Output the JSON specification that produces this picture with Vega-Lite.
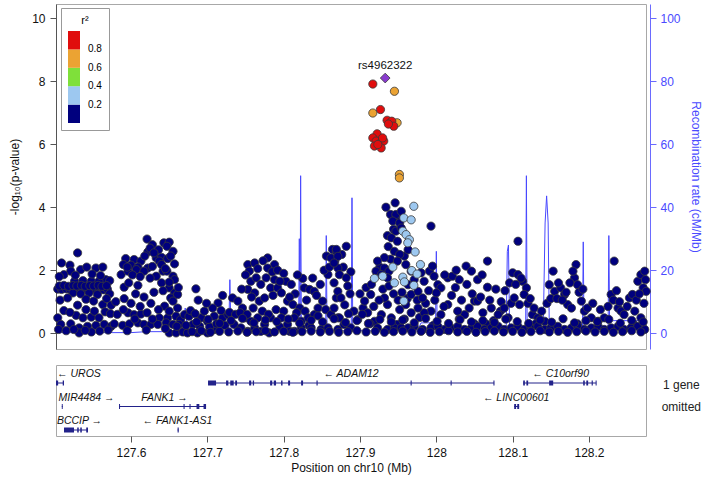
{
"$schema": "https://vega.github.io/schema/vega-lite/v6.json",
"padding": {"left": 8, "top": 3, "right": 4, "bottom": 4},
"spacing": 14,
"config": {
  "font": "Liberation Sans",
  "view": {"stroke": "#a8a8a8", "strokeWidth": 1},
  "axis": {"labelFont": "Liberation Sans", "titleFont": "Liberation Sans", "labelFontSize": 12, "titleFontSize": 12, "titleFontWeight": "normal", "labelColor": "#111", "titleColor": "#111", "grid": false, "tickColor": "#555", "domainColor": "#555"}
},
"datasets": {
 "snps": [
  {"x":127.509,"p":2.23,"r":0.1},{"x":127.520,"p":2.16,"r":0.1},{"x":127.530,"p":2.55,"r":0.1},{"x":127.521,"p":1.97,"r":0.1},{"x":127.534,"p":2.02,"r":0.1},{"x":127.542,"p":2.10,"r":0.1},{"x":127.554,"p":2.07,"r":0.1},{"x":127.563,"p":2.10,"r":0.1},{"x":127.567,"p":1.70,"r":0.1},{"x":127.526,"p":1.65,"r":0.1},{"x":127.537,"p":1.67,"r":0.1},{"x":127.548,"p":1.65,"r":0.1},{"x":127.558,"p":1.65,"r":0.1},{"x":127.572,"p":1.67,"r":0.1},
  {"x":127.504,"p":1.40,"r":0.1},{"x":127.509,"p":1.39,"r":0.1},{"x":127.515,"p":1.41,"r":0.1},{"x":127.520,"p":1.39,"r":0.1},{"x":127.526,"p":1.40,"r":0.1},{"x":127.531,"p":1.38,"r":0.1},{"x":127.537,"p":1.40,"r":0.1},{"x":127.542,"p":1.39,"r":0.1},{"x":127.548,"p":1.41,"r":0.1},{"x":127.553,"p":1.39,"r":0.1},{"x":127.558,"p":1.40,"r":0.1},{"x":127.564,"p":1.38,"r":0.1},{"x":127.569,"p":1.40,"r":0.1},
  {"x":127.524,"p":1.28,"r":0.1},{"x":127.534,"p":1.25,"r":0.1},{"x":127.545,"p":1.28,"r":0.1},{"x":127.556,"p":1.23,"r":0.1},{"x":127.572,"p":1.25,"r":0.1},
  {"x":127.530,"p":0.89,"r":0.1},{"x":127.563,"p":0.91,"r":0.1},{"x":127.574,"p":0.89,"r":0.1},
  {"x":127.528,"p":0.57,"r":0.1},{"x":127.537,"p":0.49,"r":0.1},{"x":127.548,"p":0.51,"r":0.1},{"x":127.558,"p":0.49,"r":0.1},{"x":127.504,"p":0.49,"r":0.1},
  {"x":127.508,"p":0.28,"r":0.1},{"x":127.521,"p":0.30,"r":0.1},{"x":127.532,"p":0.17,"r":0.1},{"x":127.543,"p":0.22,"r":0.1},{"x":127.554,"p":0.25,"r":0.1},{"x":127.565,"p":0.28,"r":0.1},{"x":127.574,"p":0.22,"r":0.1},
  {"x":127.532,"p":0.01,"r":0.1},{"x":127.548,"p":0.04,"r":0.1},{"x":127.505,"p":0.12,"r":0.1},
  {"x":127.506,"p":1.50,"r":0.1},{"x":127.512,"p":1.52,"r":0.1},{"x":127.518,"p":1.49,"r":0.1},{"x":127.524,"p":1.51,"r":0.1},{"x":127.529,"p":1.50,"r":0.1},{"x":127.535,"p":1.52,"r":0.1},{"x":127.540,"p":1.49,"r":0.1},{"x":127.546,"p":1.51,"r":0.1},{"x":127.551,"p":1.50,"r":0.1},{"x":127.557,"p":1.52,"r":0.1},{"x":127.562,"p":1.49,"r":0.1},{"x":127.568,"p":1.51,"r":0.1},
  {"x":127.507,"p":1.05,"r":0.1},{"x":127.517,"p":1.12,"r":0.1},{"x":127.541,"p":1.08,"r":0.1},{"x":127.551,"p":1.02,"r":0.1},{"x":127.568,"p":1.10,"r":0.1},
  {"x":127.512,"p":0.72,"r":0.1},{"x":127.520,"p":0.66,"r":0.1},{"x":127.541,"p":0.75,"r":0.1},{"x":127.552,"p":0.70,"r":0.1},{"x":127.566,"p":0.68,"r":0.1},{"x":127.573,"p":0.62,"r":0.1},
  {"x":127.512,"p":1.86,"r":0.1},{"x":127.527,"p":1.84,"r":0.1},{"x":127.549,"p":1.88,"r":0.1},{"x":127.560,"p":1.83,"r":0.1},{"x":127.506,"p":1.80,"r":0.1},
  {"x":127.515,"p":0.08,"r":0.1},{"x":127.525,"p":0.12,"r":0.1},{"x":127.540,"p":0.09,"r":0.1},{"x":127.559,"p":0.07,"r":0.1},{"x":127.570,"p":0.10,"r":0.1},
  {"x":127.578,"p":0.30,"r":0.1},{"x":127.580,"p":1.00,"r":0.1},{"x":127.582,"p":0.60,"r":0.1},
  {"x":127.621,"p":2.99,"r":0.1},{"x":127.628,"p":2.81,"r":0.1},{"x":127.643,"p":2.87,"r":0.1},{"x":127.650,"p":2.89,"r":0.1},{"x":127.647,"p":2.76,"r":0.1},{"x":127.622,"p":2.58,"r":0.1},{"x":127.633,"p":2.39,"r":0.1},{"x":127.640,"p":2.41,"r":0.1},{"x":127.648,"p":2.37,"r":0.1},{"x":127.637,"p":2.29,"r":0.1},
  {"x":127.593,"p":2.37,"r":0.1},{"x":127.604,"p":2.34,"r":0.1},{"x":127.613,"p":2.29,"r":0.1},{"x":127.590,"p":2.18,"r":0.1},{"x":127.600,"p":2.16,"r":0.1},{"x":127.609,"p":2.10,"r":0.1},{"x":127.622,"p":2.07,"r":0.1},{"x":127.587,"p":1.86,"r":0.1},{"x":127.596,"p":1.97,"r":0.1},{"x":127.607,"p":2.02,"r":0.1},{"x":127.617,"p":1.97,"r":0.1},
  {"x":127.633,"p":1.81,"r":0.1},{"x":127.642,"p":1.97,"r":0.1},{"x":127.647,"p":1.97,"r":0.1},{"x":127.655,"p":1.81,"r":0.1},{"x":127.657,"p":1.70,"r":0.1},
  {"x":127.591,"p":1.46,"r":0.1},{"x":127.609,"p":1.52,"r":0.1},{"x":127.650,"p":1.44,"r":0.1},{"x":127.657,"p":1.28,"r":0.1},{"x":127.652,"p":1.12,"r":0.1},{"x":127.661,"p":1.23,"r":0.1},
  {"x":127.591,"p":1.10,"r":0.1},{"x":127.644,"p":0.86,"r":0.1},{"x":127.655,"p":1.02,"r":0.1},{"x":127.661,"p":0.80,"r":0.1},
  {"x":127.596,"p":0.65,"r":0.1},{"x":127.604,"p":0.59,"r":0.1},{"x":127.613,"p":0.61,"r":0.1},{"x":127.621,"p":0.65,"r":0.1},{"x":127.637,"p":0.49,"r":0.1},{"x":127.648,"p":0.49,"r":0.1},{"x":127.659,"p":0.54,"r":0.1},{"x":127.665,"p":0.43,"r":0.1},
  {"x":127.589,"p":0.25,"r":0.1},{"x":127.598,"p":0.30,"r":0.1},{"x":127.609,"p":0.33,"r":0.1},{"x":127.617,"p":0.28,"r":0.1},{"x":127.626,"p":0.28,"r":0.1},{"x":127.635,"p":0.28,"r":0.1},{"x":127.646,"p":0.33,"r":0.1},{"x":127.655,"p":0.28,"r":0.1},{"x":127.663,"p":0.28,"r":0.1},
  {"x":127.650,"p":0.01,"r":0.1},{"x":127.659,"p":0.01,"r":0.1},{"x":127.668,"p":0.04,"r":0.1},
  {"x":127.625,"p":2.70,"r":0.1},{"x":127.636,"p":2.65,"r":0.1},{"x":127.630,"p":2.55,"r":0.1},{"x":127.655,"p":2.60,"r":0.1},{"x":127.652,"p":2.45,"r":0.1},{"x":127.618,"p":2.45,"r":0.1},{"x":127.640,"p":2.18,"r":0.1},{"x":127.628,"p":2.12,"r":0.1},{"x":127.645,"p":2.05,"r":0.1},{"x":127.595,"p":2.10,"r":0.1},{"x":127.602,"p":1.85,"r":0.1},{"x":127.612,"p":1.80,"r":0.1},{"x":127.625,"p":1.75,"r":0.1},{"x":127.640,"p":1.60,"r":0.1},{"x":127.650,"p":1.62,"r":0.1},{"x":127.597,"p":1.60,"r":0.1},{"x":127.606,"p":1.25,"r":0.1},{"x":127.617,"p":1.15,"r":0.1},{"x":127.630,"p":1.30,"r":0.1},{"x":127.642,"p":1.35,"r":0.1},{"x":127.600,"p":0.95,"r":0.1},{"x":127.612,"p":0.85,"r":0.1},{"x":127.626,"p":0.95,"r":0.1},{"x":127.636,"p":0.75,"r":0.1},{"x":127.650,"p":0.70,"r":0.1},{"x":127.590,"p":0.75,"r":0.1},{"x":127.605,"p":0.45,"r":0.1},{"x":127.628,"p":0.45,"r":0.1},{"x":127.645,"p":0.15,"r":0.1},{"x":127.620,"p":0.10,"r":0.1},{"x":127.595,"p":0.08,"r":0.1},{"x":127.660,"p":0.22,"r":0.1},{"x":127.657,"p":2.20,"r":0.1},{"x":127.662,"p":1.45,"r":0.1},
  {"x":127.670,"p":0.59,"r":0.1},{"x":127.676,"p":0.54,"r":0.1},{"x":127.681,"p":0.28,"r":0.1},{"x":127.685,"p":1.41,"r":0.1},{"x":127.692,"p":0.49,"r":0.1},{"x":127.700,"p":0.38,"r":0.1},{"x":127.709,"p":0.54,"r":0.1},{"x":127.714,"p":0.96,"r":0.1},{"x":127.720,"p":0.49,"r":0.1},{"x":127.727,"p":0.59,"r":0.1},
  {"x":127.674,"p":0.01,"r":0.1},{"x":127.687,"p":0.01,"r":0.1},{"x":127.700,"p":0.01,"r":0.1},{"x":127.709,"p":0.12,"r":0.1},
  {"x":127.672,"p":0.25,"r":0.1},{"x":127.678,"p":0.72,"r":0.1},{"x":127.684,"p":0.62,"r":0.1},{"x":127.690,"p":0.22,"r":0.1},{"x":127.696,"p":0.70,"r":0.1},{"x":127.703,"p":0.20,"r":0.1},{"x":127.707,"p":0.80,"r":0.1},{"x":127.712,"p":0.30,"r":0.1},{"x":127.718,"p":0.72,"r":0.1},{"x":127.723,"p":0.25,"r":0.1},{"x":127.729,"p":0.66,"r":0.1},{"x":127.735,"p":0.28,"r":0.1},{"x":127.737,"p":0.60,"r":0.1},{"x":127.688,"p":1.05,"r":0.1},{"x":127.720,"p":1.20,"r":0.1},{"x":127.699,"p":0.95,"r":0.1},
  {"x":127.733,"p":1.12,"r":0.1},{"x":127.740,"p":1.02,"r":0.1},{"x":127.746,"p":0.80,"r":0.1},{"x":127.753,"p":2.18,"r":0.1},{"x":127.755,"p":1.97,"r":0.1},{"x":127.762,"p":2.23,"r":0.1},{"x":127.757,"p":1.65,"r":0.1},{"x":127.764,"p":1.76,"r":0.1},{"x":127.753,"p":1.39,"r":0.1},{"x":127.762,"p":1.28,"r":0.1},{"x":127.768,"p":1.02,"r":0.1},{"x":127.775,"p":1.12,"r":0.1},
  {"x":127.779,"p":2.39,"r":0.1},{"x":127.788,"p":2.18,"r":0.1},{"x":127.779,"p":2.07,"r":0.1},{"x":127.777,"p":1.76,"r":0.1},{"x":127.783,"p":1.44,"r":0.1},{"x":127.788,"p":1.70,"r":0.1},
  {"x":127.749,"p":0.49,"r":0.1},{"x":127.757,"p":0.38,"r":0.1},{"x":127.766,"p":0.49,"r":0.1},{"x":127.775,"p":0.28,"r":0.1},{"x":127.783,"p":0.49,"r":0.1},{"x":127.744,"p":0.17,"r":0.1},{"x":127.753,"p":0.06,"r":0.1},{"x":127.762,"p":0.17,"r":0.1},{"x":127.770,"p":0.06,"r":0.1},{"x":127.781,"p":0.01,"r":0.1},
  {"x":127.792,"p":1.44,"r":0.1},{"x":127.797,"p":1.28,"r":0.1},{"x":127.803,"p":1.65,"r":0.1},{"x":127.805,"p":1.02,"r":0.1},{"x":127.812,"p":0.91,"r":0.1},{"x":127.821,"p":0.80,"r":0.1},{"x":127.825,"p":1.74,"r":0.1},{"x":127.827,"p":1.44,"r":0.1},{"x":127.834,"p":1.39,"r":0.1},{"x":127.840,"p":1.33,"r":0.1},
  {"x":127.745,"p":1.40,"r":0.1},{"x":127.750,"p":1.85,"r":0.1},{"x":127.758,"p":1.15,"r":0.1},{"x":127.766,"p":2.05,"r":0.1},{"x":127.770,"p":1.55,"r":0.1},{"x":127.773,"p":2.30,"r":0.1},{"x":127.785,"p":1.95,"r":0.1},{"x":127.792,"p":2.00,"r":0.1},{"x":127.795,"p":1.65,"r":0.1},{"x":127.800,"p":1.90,"r":0.1},{"x":127.810,"p":1.55,"r":0.1},{"x":127.815,"p":1.25,"r":0.1},{"x":127.818,"p":1.85,"r":0.1},{"x":127.808,"p":1.15,"r":0.1},{"x":127.786,"p":1.20,"r":0.1},{"x":127.760,"p":0.80,"r":0.1},{"x":127.772,"p":0.70,"r":0.1},{"x":127.790,"p":0.75,"r":0.1},{"x":127.800,"p":0.70,"r":0.1},{"x":127.817,"p":0.65,"r":0.1},{"x":127.743,"p":0.65,"r":0.1},{"x":127.752,"p":0.60,"r":0.1},{"x":127.780,"p":0.60,"r":0.1},{"x":127.795,"p":0.20,"r":0.1},{"x":127.828,"p":0.70,"r":0.1},
  {"x":127.814,"p":0.49,"r":0.1},{"x":127.823,"p":0.38,"r":0.1},{"x":127.832,"p":0.49,"r":0.1},{"x":127.840,"p":0.59,"r":0.1},{"x":127.845,"p":0.80,"r":0.1},{"x":127.851,"p":1.02,"r":0.1},{"x":127.858,"p":1.86,"r":0.1},
  {"x":127.830,"p":1.05,"r":0.1},{"x":127.838,"p":1.75,"r":0.1},{"x":127.843,"p":1.20,"r":0.1},{"x":127.848,"p":1.55,"r":0.1},{"x":127.853,"p":2.00,"r":0.1},{"x":127.856,"p":2.45,"r":0.1},{"x":127.860,"p":2.10,"r":0.1},{"x":127.866,"p":1.60,"r":0.1},{"x":127.878,"p":2.10,"r":0.1},{"x":127.884,"p":1.50,"r":0.1},{"x":127.887,"p":1.25,"r":0.1},{"x":127.880,"p":0.90,"r":0.1},{"x":127.892,"p":0.70,"r":0.1},{"x":127.855,"p":0.75,"r":0.1},{"x":127.845,"p":0.55,"r":0.1},{"x":127.833,"p":0.25,"r":0.1},{"x":127.885,"p":0.62,"r":0.1},{"x":127.876,"p":2.50,"r":0.1},{"x":127.888,"p":1.95,"r":0.1},
  {"x":127.864,"p":2.66,"r":0.1},{"x":127.869,"p":2.60,"r":0.1},{"x":127.867,"p":2.29,"r":0.1},{"x":127.871,"p":2.07,"r":0.1},{"x":127.862,"p":2.39,"r":0.1},{"x":127.869,"p":1.12,"r":0.1},{"x":127.862,"p":0.59,"r":0.1},{"x":127.871,"p":0.49,"r":0.1},
  {"x":127.797,"p":0.49,"r":0.1},{"x":127.805,"p":0.28,"r":0.1},{"x":127.814,"p":0.06,"r":0.1},{"x":127.823,"p":0.17,"r":0.1},{"x":127.836,"p":0.17,"r":0.1},{"x":127.849,"p":0.12,"r":0.1},{"x":127.858,"p":0.17,"r":0.1},{"x":127.871,"p":0.12,"r":0.1},{"x":127.808,"p":0.06,"r":0.1},
  {"x":127.869,"p":2.66,"r":0.1},{"x":127.871,"p":2.44,"r":0.1},{"x":127.866,"p":2.23,"r":0.1},{"x":127.873,"p":1.86,"r":0.1},{"x":127.882,"p":2.76,"r":0.1},{"x":127.882,"p":1.76,"r":0.1},{"x":127.871,"p":1.33,"r":0.1},{"x":127.875,"p":1.12,"r":0.1},{"x":127.866,"p":0.80,"r":0.1},{"x":127.873,"p":0.49,"r":0.1},{"x":127.879,"p":0.28,"r":0.1},{"x":127.888,"p":0.17,"r":0.1},
  {"x":127.897,"p":0.43,"r":0.1},{"x":127.904,"p":0.80,"r":0.1},{"x":127.906,"p":1.02,"r":0.1},{"x":127.914,"p":1.23,"r":0.1},{"x":127.910,"p":0.65,"r":0.1},{"x":127.919,"p":0.38,"r":0.1},{"x":127.928,"p":0.59,"r":0.1},{"x":127.936,"p":0.91,"r":0.1},{"x":127.932,"p":1.12,"r":0.1},{"x":127.941,"p":0.49,"r":0.1},{"x":127.949,"p":0.28,"r":0.1},{"x":127.923,"p":0.17,"r":0.1},{"x":127.936,"p":0.12,"r":0.1},{"x":127.945,"p":0.17,"r":0.1},{"x":127.954,"p":0.17,"r":0.1},
  {"x":127.900,"p":1.25,"r":0.1},{"x":127.908,"p":1.45,"r":0.1},{"x":127.915,"p":1.55,"r":0.1},{"x":127.918,"p":0.85,"r":0.1},{"x":127.925,"p":1.05,"r":0.1},{"x":127.930,"p":1.40,"r":0.1},{"x":127.938,"p":1.50,"r":0.1},{"x":127.944,"p":1.25,"r":0.1},{"x":127.950,"p":1.05,"r":0.1},{"x":127.955,"p":1.30,"r":0.1},{"x":127.962,"p":1.10,"r":0.1},{"x":127.940,"p":2.35,"r":0.1},{"x":127.932,"p":2.40,"r":0.1},{"x":127.926,"p":2.10,"r":0.1},{"x":127.958,"p":2.45,"r":0.1},{"x":127.963,"p":2.65,"r":0.1},{"x":127.975,"p":1.05,"r":0.1},{"x":127.986,"p":0.95,"r":0.1},{"x":127.990,"p":1.35,"r":0.1},{"x":127.998,"p":1.05,"r":0.1},{"x":127.903,"p":0.60,"r":0.1},{"x":127.913,"p":0.30,"r":0.1},{"x":127.958,"p":0.45,"r":0.1},{"x":127.978,"p":0.50,"r":0.1},{"x":127.996,"p":0.25,"r":0.1},{"x":127.937,"p":2.75,"r":0.1},{"x":127.944,"p":3.30,"r":0.1},{"x":127.936,"p":3.10,"r":0.1},{"x":127.950,"p":3.60,"r":0.1},
  {"x":127.934,"p":4.00,"r":0.1},{"x":127.946,"p":4.14,"r":0.1},{"x":127.940,"p":3.77,"r":0.1},{"x":127.947,"p":3.77,"r":0.1},{"x":127.954,"p":3.87,"r":0.1},{"x":127.943,"p":3.56,"r":0.1},{"x":127.952,"p":3.50,"r":0.1},{"x":127.947,"p":3.24,"r":0.1},{"x":127.954,"p":3.34,"r":0.1},{"x":127.941,"p":3.03,"r":0.1},{"x":127.949,"p":2.92,"r":0.1},{"x":127.945,"p":2.60,"r":0.1},{"x":127.952,"p":2.50,"r":0.1},
  {"x":127.923,"p":2.29,"r":0.1},{"x":127.932,"p":2.07,"r":0.1},{"x":127.938,"p":1.97,"r":0.1},{"x":127.921,"p":1.97,"r":0.1},{"x":127.928,"p":1.86,"r":0.1},{"x":127.936,"p":1.76,"r":0.1},{"x":127.949,"p":2.29,"r":0.1},{"x":127.960,"p":2.18,"r":0.1},{"x":127.967,"p":1.97,"r":0.1},{"x":127.971,"p":1.70,"r":0.1},{"x":127.980,"p":1.92,"r":0.1},
  {"x":127.963,"p":1.54,"r":0.1},{"x":127.967,"p":1.23,"r":0.1},{"x":127.976,"p":1.33,"r":0.1},{"x":127.982,"p":1.12,"r":0.1},{"x":127.984,"p":1.65,"r":0.1},{"x":127.991,"p":1.97,"r":0.1},{"x":127.995,"p":2.13,"r":0.1},{"x":127.997,"p":1.81,"r":0.1},{"x":128.002,"p":1.54,"r":0.1},{"x":128.006,"p":1.44,"r":0.1},{"x":128.000,"p":1.28,"r":0.1},{"x":127.993,"p":3.40,"r":0.1},
  {"x":128.015,"p":1.76,"r":0.1},{"x":128.021,"p":1.81,"r":0.1},{"x":128.030,"p":1.70,"r":0.1},{"x":128.039,"p":2.13,"r":0.1},{"x":128.046,"p":1.97,"r":0.1},{"x":128.054,"p":1.70,"r":0.1},{"x":128.067,"p":2.29,"r":0.1},{"x":128.067,"p":1.46,"r":0.1},
  {"x":128.050,"p":1.02,"r":0.1},{"x":128.054,"p":1.02,"r":0.1},{"x":128.043,"p":0.80,"r":0.1},{"x":128.037,"p":0.59,"r":0.1},{"x":128.028,"p":0.70,"r":0.1},{"x":128.015,"p":0.91,"r":0.1},{"x":128.006,"p":0.59,"r":0.1},{"x":127.993,"p":0.70,"r":0.1},{"x":127.984,"p":0.65,"r":0.1},{"x":127.976,"p":0.80,"r":0.1},{"x":127.967,"p":0.65,"r":0.1},{"x":127.960,"p":0.91,"r":0.1},{"x":127.952,"p":0.75,"r":0.1},
  {"x":128.010,"p":0.85,"r":0.1},{"x":128.020,"p":1.20,"r":0.1},{"x":128.025,"p":1.45,"r":0.1},{"x":128.033,"p":1.05,"r":0.1},{"x":128.040,"p":1.55,"r":0.1},{"x":128.047,"p":1.25,"r":0.1},{"x":128.058,"p":1.15,"r":0.1},{"x":128.061,"p":0.65,"r":0.1},{"x":128.070,"p":1.05,"r":0.1},{"x":128.075,"p":0.40,"r":0.1},{"x":128.078,"p":1.40,"r":0.1},{"x":128.085,"p":1.00,"r":0.1},{"x":128.090,"p":1.35,"r":0.1},{"x":128.096,"p":1.60,"r":0.1},{"x":128.098,"p":0.95,"r":0.1},{"x":128.011,"p":1.85,"r":0.1},{"x":128.026,"p":2.00,"r":0.1},{"x":128.060,"p":1.85,"r":0.1},{"x":128.084,"p":0.70,"r":0.1},{"x":128.050,"p":0.30,"r":0.1},{"x":128.030,"p":0.45,"r":0.1},{"x":128.065,"p":0.30,"r":0.1},
  {"x":128.072,"p":0.80,"r":0.1},{"x":128.081,"p":0.59,"r":0.1},{"x":128.089,"p":0.80,"r":0.1},{"x":128.094,"p":0.49,"r":0.1},{"x":128.100,"p":1.92,"r":0.1},{"x":128.107,"p":1.86,"r":0.1},{"x":128.113,"p":1.65,"r":0.1},{"x":128.118,"p":1.44,"r":0.1},{"x":128.115,"p":1.23,"r":0.1},{"x":128.109,"p":0.91,"r":0.1},{"x":128.102,"p":1.12,"r":0.1},{"x":128.107,"p":2.92,"r":0.1},
  {"x":128.126,"p":0.59,"r":0.1},{"x":128.133,"p":0.49,"r":0.1},{"x":128.142,"p":0.38,"r":0.1},{"x":128.148,"p":1.54,"r":0.1},{"x":128.153,"p":1.97,"r":0.1},{"x":128.155,"p":1.33,"r":0.1},{"x":128.163,"p":1.44,"r":0.1},{"x":128.168,"p":1.23,"r":0.1},{"x":128.172,"p":0.91,"r":0.1},{"x":128.177,"p":0.80,"r":0.1},
  {"x":128.181,"p":1.76,"r":0.1},{"x":128.183,"p":2.18,"r":0.1},{"x":128.179,"p":1.97,"r":0.1},{"x":128.185,"p":1.54,"r":0.1},{"x":128.190,"p":1.02,"r":0.1},{"x":128.194,"p":0.70,"r":0.1},{"x":128.203,"p":0.49,"r":0.1},{"x":128.212,"p":0.38,"r":0.1},{"x":128.220,"p":0.49,"r":0.1},
  {"x":128.229,"p":1.23,"r":0.1},{"x":128.233,"p":2.29,"r":0.1},{"x":128.238,"p":0.80,"r":0.1},{"x":128.242,"p":0.70,"r":0.1},{"x":128.246,"p":0.59,"r":0.1},{"x":128.253,"p":1.12,"r":0.1},{"x":128.257,"p":1.23,"r":0.1},{"x":128.264,"p":1.65,"r":0.1},{"x":128.268,"p":1.86,"r":0.1},{"x":128.273,"p":1.97,"r":0.1},{"x":128.271,"p":1.44,"r":0.1},{"x":128.275,"p":1.33,"r":0.1},{"x":128.260,"p":0.70,"r":0.1},{"x":128.268,"p":0.49,"r":0.1},
  {"x":128.104,"p":1.55,"r":0.1},{"x":128.111,"p":1.75,"r":0.1},{"x":128.120,"p":0.95,"r":0.1},{"x":128.123,"p":1.10,"r":0.1},{"x":128.128,"p":0.80,"r":0.1},{"x":128.138,"p":0.70,"r":0.1},{"x":128.145,"p":0.95,"r":0.1},{"x":128.150,"p":1.10,"r":0.1},{"x":128.158,"p":1.10,"r":0.1},{"x":128.160,"p":1.60,"r":0.1},{"x":128.165,"p":1.05,"r":0.1},{"x":128.170,"p":1.30,"r":0.1},{"x":128.175,"p":1.60,"r":0.1},{"x":128.187,"p":1.30,"r":0.1},{"x":128.192,"p":1.40,"r":0.1},{"x":128.198,"p":0.80,"r":0.1},{"x":128.205,"p":0.95,"r":0.1},{"x":128.215,"p":0.75,"r":0.1},{"x":128.225,"p":0.85,"r":0.1},{"x":128.232,"p":1.05,"r":0.1},{"x":128.236,"p":1.35,"r":0.1},{"x":128.240,"p":1.00,"r":0.1},{"x":128.250,"p":0.85,"r":0.1},{"x":128.262,"p":1.05,"r":0.1},{"x":128.266,"p":1.25,"r":0.1},{"x":128.272,"p":0.95,"r":0.1},{"x":128.274,"p":1.70,"r":0.1},{"x":128.258,"p":0.30,"r":0.1},{"x":128.130,"p":0.30,"r":0.1},{"x":128.185,"p":0.30,"r":0.1},
  {"x":127.963,"p":0.17,"r":0.1},{"x":127.971,"p":0.22,"r":0.1},{"x":127.982,"p":0.12,"r":0.1},{"x":127.993,"p":0.17,"r":0.1},{"x":128.002,"p":0.22,"r":0.1},{"x":128.011,"p":0.12,"r":0.1},{"x":128.019,"p":0.17,"r":0.1},{"x":128.028,"p":0.22,"r":0.1},{"x":128.037,"p":0.12,"r":0.1},{"x":128.046,"p":0.17,"r":0.1},{"x":128.054,"p":0.22,"r":0.1},{"x":128.063,"p":0.12,"r":0.1},{"x":128.072,"p":0.17,"r":0.1},{"x":128.081,"p":0.22,"r":0.1},{"x":128.089,"p":0.12,"r":0.1},{"x":128.098,"p":0.17,"r":0.1},{"x":128.107,"p":0.22,"r":0.1},{"x":128.115,"p":0.12,"r":0.1},{"x":128.124,"p":0.17,"r":0.1},{"x":128.133,"p":0.22,"r":0.1},{"x":128.142,"p":0.12,"r":0.1},{"x":128.150,"p":0.17,"r":0.1},{"x":128.159,"p":0.22,"r":0.1},{"x":128.168,"p":0.12,"r":0.1},{"x":128.177,"p":0.17,"r":0.1},{"x":128.185,"p":0.22,"r":0.1},{"x":128.194,"p":0.12,"r":0.1},{"x":128.203,"p":0.17,"r":0.1},{"x":128.212,"p":0.22,"r":0.1},{"x":128.220,"p":0.12,"r":0.1},{"x":128.229,"p":0.17,"r":0.1},{"x":128.238,"p":0.22,"r":0.1},{"x":128.246,"p":0.12,"r":0.1},{"x":128.255,"p":0.17,"r":0.1},{"x":128.264,"p":0.22,"r":0.1},{"x":128.273,"p":0.12,"r":0.1},
  {"x":127.680,"p":0.05,"r":0.1},{"x":127.692,"p":0.08,"r":0.1},{"x":127.704,"p":0.03,"r":0.1},{"x":127.716,"p":0.06,"r":0.1},{"x":127.728,"p":0.04,"r":0.1},{"x":127.740,"p":0.07,"r":0.1},{"x":127.752,"p":0.03,"r":0.1},{"x":127.764,"p":0.05,"r":0.1},{"x":127.776,"p":0.08,"r":0.1},{"x":127.788,"p":0.04,"r":0.1},{"x":127.800,"p":0.06,"r":0.1},{"x":127.812,"p":0.03,"r":0.1},{"x":127.824,"p":0.05,"r":0.1},{"x":127.836,"p":0.07,"r":0.1},{"x":127.848,"p":0.04,"r":0.1},{"x":127.860,"p":0.06,"r":0.1},{"x":127.872,"p":0.03,"r":0.1},{"x":127.884,"p":0.05,"r":0.1},{"x":127.896,"p":0.08,"r":0.1},{"x":127.908,"p":0.04,"r":0.1},{"x":127.920,"p":0.06,"r":0.1},{"x":127.932,"p":0.03,"r":0.1},{"x":127.944,"p":0.05,"r":0.1},{"x":127.956,"p":0.07,"r":0.1},{"x":127.968,"p":0.04,"r":0.1},{"x":127.980,"p":0.06,"r":0.1},{"x":127.992,"p":0.03,"r":0.1},{"x":128.004,"p":0.05,"r":0.1},{"x":128.016,"p":0.08,"r":0.1},{"x":128.028,"p":0.04,"r":0.1},{"x":128.040,"p":0.06,"r":0.1},{"x":128.052,"p":0.03,"r":0.1},{"x":128.064,"p":0.05,"r":0.1},{"x":128.076,"p":0.07,"r":0.1},{"x":128.088,"p":0.04,"r":0.1},{"x":128.100,"p":0.06,"r":0.1},{"x":128.112,"p":0.03,"r":0.1},{"x":128.124,"p":0.05,"r":0.1},{"x":128.136,"p":0.08,"r":0.1},{"x":128.148,"p":0.04,"r":0.1},{"x":128.160,"p":0.06,"r":0.1},{"x":128.172,"p":0.03,"r":0.1},{"x":128.184,"p":0.05,"r":0.1},{"x":128.196,"p":0.07,"r":0.1},{"x":128.208,"p":0.04,"r":0.1},{"x":128.220,"p":0.06,"r":0.1},{"x":128.232,"p":0.03,"r":0.1},{"x":128.244,"p":0.05,"r":0.1},{"x":128.256,"p":0.08,"r":0.1},{"x":128.268,"p":0.04,"r":0.1},
  {"x":127.686,"p":0.36,"r":0.1},{"x":127.701,"p":0.44,"r":0.1},{"x":127.716,"p":0.31,"r":0.1},{"x":127.731,"p":0.40,"r":0.1},{"x":127.746,"p":0.47,"r":0.1},{"x":127.761,"p":0.33,"r":0.1},{"x":127.776,"p":0.42,"r":0.1},{"x":127.791,"p":0.37,"r":0.1},{"x":127.806,"p":0.45,"r":0.1},{"x":127.821,"p":0.32,"r":0.1},{"x":127.836,"p":0.41,"r":0.1},{"x":127.851,"p":0.36,"r":0.1},{"x":127.866,"p":0.46,"r":0.1},{"x":127.881,"p":0.34,"r":0.1},{"x":127.896,"p":0.40,"r":0.1},{"x":127.911,"p":0.31,"r":0.1},{"x":127.926,"p":0.44,"r":0.1},{"x":127.941,"p":0.36,"r":0.1},{"x":127.956,"p":0.42,"r":0.1},{"x":127.971,"p":0.33,"r":0.1},{"x":127.986,"p":0.47,"r":0.1},{"x":128.001,"p":0.38,"r":0.1},{"x":128.016,"p":0.31,"r":0.1},{"x":128.031,"p":0.43,"r":0.1},{"x":128.046,"p":0.36,"r":0.1},{"x":128.061,"p":0.40,"r":0.1},{"x":128.076,"p":0.34,"r":0.1},{"x":128.091,"p":0.45,"r":0.1},{"x":128.106,"p":0.37,"r":0.1},{"x":128.121,"p":0.31,"r":0.1},{"x":128.136,"p":0.42,"r":0.1},{"x":128.151,"p":0.35,"r":0.1},{"x":128.166,"p":0.46,"r":0.1},{"x":128.181,"p":0.33,"r":0.1},{"x":128.196,"p":0.40,"r":0.1},{"x":128.211,"p":0.37,"r":0.1},{"x":128.226,"p":0.44,"r":0.1},{"x":128.241,"p":0.32,"r":0.1},{"x":128.256,"p":0.41,"r":0.1},{"x":128.271,"p":0.36,"r":0.1},
  {"x":127.9705,"p":4.03,"r":0.3},{"x":127.9574,"p":3.66,"r":0.3},{"x":127.967,"p":3.60,"r":0.3},{"x":127.9561,"p":3.24,"r":0.3},{"x":127.9604,"p":3.13,"r":0.3},{"x":127.9647,"p":2.97,"r":0.3},{"x":127.9626,"p":2.87,"r":0.3},{"x":127.9722,"p":2.58,"r":0.3},{"x":127.9792,"p":2.18,"r":0.3},{"x":127.943,"p":2.10,"r":0.3},{"x":127.9678,"p":1.99,"r":0.3},{"x":127.9748,"p":1.88,"r":0.3},{"x":127.9298,"p":1.81,"r":0.3},{"x":127.9189,"p":1.74,"r":0.3},{"x":127.9561,"p":1.78,"r":0.3},{"x":127.945,"p":1.60,"r":0.3},{"x":127.9581,"p":1.63,"r":0.3},{"x":127.9705,"p":1.52,"r":0.3},{"x":127.9574,"p":1.02,"r":0.3},
  {"x":127.9451,"p":7.68,"r":0.7},{"x":127.9168,"p":6.99,"r":0.7},{"x":127.9486,"p":6.68,"r":0.7},{"x":127.9516,"p":5.04,"r":0.7},{"x":127.9516,"p":4.93,"r":0.7},
  {"x":127.9168,"p":7.91,"r":0.9},{"x":127.9268,"p":7.10,"r":0.9},{"x":127.9355,"p":6.76,"r":0.9},{"x":127.9416,"p":6.73,"r":0.9},{"x":127.9442,"p":6.57,"r":0.9},{"x":127.9372,"p":6.64,"r":0.9},{"x":127.9224,"p":6.33,"r":0.9},{"x":127.9168,"p":6.20,"r":0.9},{"x":127.9211,"p":6.10,"r":0.9},{"x":127.9268,"p":6.04,"r":0.9},{"x":127.9311,"p":6.10,"r":0.9},{"x":127.9189,"p":5.94,"r":0.9},{"x":127.9277,"p":5.88,"r":0.9},{"x":127.9233,"p":5.99,"r":0.9},{"x":127.9296,"p":6.20,"r":0.9}
 ],
 "lead": [{"x":127.933,"p":8.10,"snp":"rs4962322"}],
 "recomb": [
  {"x":127.5017,"rate":0.2},{"x":127.60,"rate":0.2},{"x":127.62,"rate":0.5},{"x":127.66,"rate":0.5},{"x":127.668,"rate":1},{"x":127.671,"rate":8},{"x":127.674,"rate":1},{"x":127.70,"rate":0.8},{"x":127.728,"rate":0.8},{"x":127.7295,"rate":17},{"x":127.731,"rate":0.8},{"x":127.78,"rate":0.8},{"x":127.8195,"rate":0.8},{"x":127.8205,"rate":30},{"x":127.8215,"rate":1},{"x":127.8222,"rate":50},{"x":127.8232,"rate":0.8},{"x":127.855,"rate":0.8},{"x":127.8558,"rate":31},{"x":127.8568,"rate":0.8},{"x":127.8885,"rate":0.8},{"x":127.8895,"rate":43},{"x":127.8905,"rate":0.8},{"x":127.975,"rate":0.8},{"x":127.98,"rate":3.3},{"x":127.999,"rate":3.3},{"x":128.0,"rate":26},{"x":128.001,"rate":3.3},{"x":128.02,"rate":0.8},{"x":128.0915,"rate":0.8},{"x":128.093,"rate":26},{"x":128.0945,"rate":28},{"x":128.096,"rate":1},{"x":128.117,"rate":0.5},{"x":128.118,"rate":50},{"x":128.119,"rate":0.5},{"x":128.140,"rate":0.5},{"x":128.1425,"rate":35},{"x":128.1445,"rate":43.6},{"x":128.1465,"rate":35},{"x":128.148,"rate":1.5},{"x":128.17,"rate":1.5},{"x":128.1915,"rate":0.5},{"x":128.1925,"rate":29},{"x":128.1935,"rate":0.5},{"x":128.225,"rate":0.5},{"x":128.226,"rate":31},{"x":128.227,"rate":4},{"x":128.2747,"rate":4}
 ],
 "genes": [
  {"gene":"UROS","start":127.5017,"end":127.5122,"row":1},{"gene":"ADAM12","start":127.7009,"end":128.0757,"row":1},{"gene":"C10orf90","start":128.1138,"end":128.2094,"row":1},{"gene":"MIR4484","start":127.5093,"end":127.5105,"row":2},{"gene":"FANK1","start":127.5843,"end":127.6983,"row":2},{"gene":"LINC00601","start":128.102,"end":128.1085,"row":2},{"gene":"BCCIP","start":127.5122,"end":127.5436,"row":3},{"gene":"FANK1-AS1","start":127.661,"end":127.6625,"row":3}
 ],
 "exons": [
  {"start":127.5017,"end":127.5045,"row":1},{"start":127.5105,"end":127.5122,"row":1},
  {"start":127.7009,"end":127.7114,"row":1},{"start":127.7245,"end":127.7275,"row":1},{"start":127.7300,"end":127.7345,"row":1},{"start":127.7365,"end":127.7389,"row":1},{"start":127.7547,"end":127.7575,"row":1},{"start":127.7595,"end":127.7612,"row":1},{"start":127.7822,"end":127.7850,"row":1},{"start":127.7870,"end":127.7900,"row":1},{"start":127.7966,"end":127.7985,"row":1},{"start":127.8058,"end":127.8084,"row":1},{"start":127.8228,"end":127.8254,"row":1},{"start":127.8430,"end":127.8445,"row":1},{"start":127.9663,"end":127.9677,"row":1},{"start":128.0187,"end":128.0201,"row":1},{"start":128.0748,"end":128.0762,"row":1},
  {"start":128.1138,"end":128.1160,"row":1},{"start":128.1180,"end":128.1203,"row":1},{"start":128.1478,"end":128.1531,"row":1},{"start":128.1924,"end":128.1945,"row":1},{"start":128.1965,"end":128.1989,"row":1},{"start":128.2035,"end":128.2050,"row":1},{"start":128.2087,"end":128.2100,"row":1},
  {"start":127.5093,"end":127.5105,"row":2},
  {"start":127.5843,"end":127.5856,"row":2},{"start":127.6688,"end":127.6702,"row":2},{"start":127.6766,"end":127.6780,"row":2},{"start":127.6858,"end":127.6895,"row":2},{"start":127.6950,"end":127.6983,"row":2},
  {"start":128.1020,"end":128.1045,"row":2},{"start":128.1060,"end":128.1085,"row":2},
  {"start":127.5122,"end":127.5253,"row":3},{"start":127.5295,"end":127.5315,"row":3},{"start":127.5335,"end":127.5355,"row":3},{"start":127.5413,"end":127.5436,"row":3},
  {"start":127.6610,"end":127.6625,"row":3}
 ],
 "labels": [
  {"label":"← UROS","x":127.5318,"row":1},{"label":"← ADAM12","x":127.8883,"row":1},{"label":"← C10orf90","x":128.1629,"row":1},{"label":"MIR4484 →","x":127.5417,"row":2},{"label":"FANK1 →","x":127.6439,"row":2},{"label":"← LINC00601","x":128.1046,"row":2},{"label":"BCCIP →","x":127.5325,"row":3},{"label":"← FANK1-AS1","x":127.6609,"row":3}
 ]
},
"vconcat": [
 {
  "width": 590, "height": 345,
  "layer": [
   {
    "data": {"name": "recomb"},
    "mark": {"type": "line", "color": "#4848ff", "strokeWidth": 1},
    "encoding": {
     "x": {"field": "x", "type": "quantitative", "scale": {"domain": [127.5017, 128.2747], "nice": false, "zero": false}, "axis": null},
     "y": {"field": "rate", "type": "quantitative", "scale": {"domain": [-5, 104.5], "nice": false, "zero": false},
           "axis": {"orient": "right", "values": [0,20,40,60,80,100], "title": "Recombination rate (cM/Mb)", "labelColor": "#4a4aff", "titleColor": "#4a4aff", "tickColor": "#6a6aff", "domainColor": "#6a6aff", "offset": 4, "tickSize": 6, "labelPadding": 4, "titlePadding": 8}}
    }
   },
   {
    "layer": [
     {
      "data": {"name": "snps"},
      "mark": {"type": "circle", "size": 68, "stroke": "#3a3a3a", "strokeWidth": 0.8, "opacity": 1},
      "encoding": {
       "x": {"field": "x", "type": "quantitative", "scale": {"domain": [127.5017, 128.2747], "nice": false, "zero": false}, "axis": null},
       "y": {"field": "p", "type": "quantitative", "scale": {"domain": [-0.5, 10.45], "nice": false, "zero": false},
             "axis": {"values": [0,2,4,6,8,10], "title": "-log₁₀(p-value)", "tickSize": 6, "labelPadding": 5, "titlePadding": 10, "domain": true}},
       "color": {"field": "r", "type": "quantitative",
         "scale": {"type": "threshold", "domain": [0.2, 0.4, 0.6, 0.8], "range": ["#00007e", "#9dc8f0", "#7fe03a", "#eba333", "#e00d0d"]},
         "legend": {"type": "gradient", "orient": "none", "legendX": 5, "legendY": 4, "direction": "vertical", "gradientLength": 92, "gradientThickness": 12, "title": "r²", "titleFontSize": 11, "titleFontWeight": "normal", "titleAnchor": "middle", "labelFontSize": 10, "labelFont": "Liberation Sans", "padding": 7, "fillColor": "white", "strokeColor": "#999", "labelOffset": 8, "gradientStrokeWidth": 0}},
       "order": {"field": "r", "type": "quantitative"}
      }
     },
     {
      "data": {"name": "lead"},
      "mark": {"type": "point", "shape": "diamond", "filled": true, "size": 95, "fill": "#8a3ccf", "stroke": "#3a3a3a", "strokeWidth": 0.8, "opacity": 1},
      "encoding": {
       "x": {"field": "x", "type": "quantitative"},
       "y": {"field": "p", "type": "quantitative"}
      }
     },
     {
      "data": {"name": "lead"},
      "mark": {"type": "text", "fontSize": 11.5, "dy": -12, "color": "#111"},
      "encoding": {
       "x": {"field": "x", "type": "quantitative"},
       "y": {"field": "p", "type": "quantitative"},
       "text": {"field": "snp"}
      }
     }
    ]
   }
  ],
  "resolve": {"scale": {"y": "independent"}}
 },
 {
  "width": 590, "height": 71,
  "layer": [
   {
    "data": {"name": "genes"},
    "mark": {"type": "rule", "color": "#22228a", "strokeWidth": 1},
    "encoding": {
     "x": {"field": "start", "type": "quantitative", "scale": {"domain": [127.5017, 128.2747], "nice": false, "zero": false},
           "axis": {"values": [127.6,127.7,127.8,127.9,128,128.1,128.2], "format": "~g", "title": "Position on chr10 (Mb)", "tickSize": 6, "labelPadding": 5, "titlePadding": 4, "domain": false}},
     "x2": {"field": "end"},
     "y": {"field": "row", "type": "quantitative", "scale": {"domain": [0.234, 3.255], "reverse": true, "nice": false, "zero": false}, "axis": null}
    }
   },
   {
    "data": {"name": "exons"},
    "mark": {"type": "rule", "color": "#22228a", "strokeWidth": 5, "strokeCap": "butt"},
    "encoding": {
     "x": {"field": "start", "type": "quantitative"},
     "x2": {"field": "end"},
     "y": {"field": "row", "type": "quantitative"}
    }
   },
   {
    "data": {"name": "labels"},
    "mark": {"type": "text", "fontSize": 10.5, "fontStyle": "italic", "dy": -9, "color": "#111"},
    "encoding": {
     "x": {"field": "x", "type": "quantitative"},
     "y": {"field": "row", "type": "quantitative"},
     "text": {"field": "label"}
    }
   },
   {
    "data": {"values": [{"note": 1}]},
    "mark": {"type": "text", "text": ["1 gene", "omitted"], "fontSize": 12, "lineHeight": 22, "color": "#222"},
    "encoding": {
     "x": {"datum": 128.321, "type": "quantitative"},
     "y": {"datum": 1.1, "type": "quantitative"}
    }
   }
  ]
 }
]
}
